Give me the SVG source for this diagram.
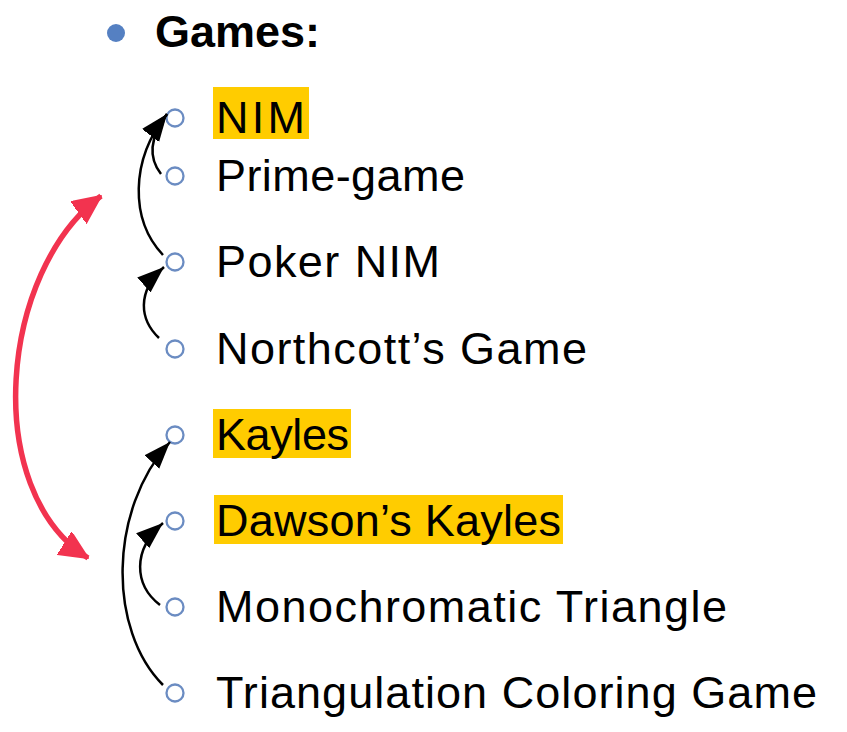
<svg xmlns="http://www.w3.org/2000/svg" width="847" height="732" viewBox="0 0 847 732">
<style>
.t{font-family:"Liberation Sans",Arial,sans-serif;font-size:45px;fill:#000}
.h{font-family:"Liberation Sans",Arial,sans-serif;font-size:44px;font-weight:bold;fill:#000}
.hl{fill:#ffcc00}
.b{fill:none;stroke:#6b8cc2;stroke-width:2.3}
.c{fill:none;stroke:#000;stroke-width:2.5}
.r{fill:none;stroke:#f2334f;stroke-width:5.5}
</style>
<defs>
<marker id="ab" markerUnits="userSpaceOnUse" markerWidth="30" markerHeight="24" refX="27" refY="10" orient="auto">
<path d="M0,0 L27,10 L0,20 Z" fill="#000"/>
</marker>
<marker id="ar" markerUnits="userSpaceOnUse" markerWidth="30" markerHeight="28" refX="28" refY="13" orient="auto-start-reverse">
<path d="M0,0 L28,13 L0,26 Z" fill="#f2334f" stroke="#f2334f" stroke-width="2" stroke-linejoin="round"/>
</marker>
</defs>
<g id="title">
<circle cx="116" cy="33" r="9" fill="#5580c2"/>
<text class="h" x="155" y="47" textLength="165" lengthAdjust="spacingAndGlyphs">Games:</text>
</g>
<g id="n-nim">
<rect class="hl" x="213" y="87" width="96" height="52"/>
<circle class="b" cx="175" cy="118" r="8.5"/>
<text class="t" x="216" y="133" textLength="89" lengthAdjust="spacing">NIM</text>
</g>
<g id="n-prime">
<circle class="b" cx="175" cy="176" r="8.5"/>
<text class="t" x="216" y="191" textLength="249" lengthAdjust="spacing">Prime-game</text>
</g>
<g id="n-poker">
<circle class="b" cx="175" cy="262" r="8.5"/>
<text class="t" x="216" y="277" textLength="224" lengthAdjust="spacing">Poker NIM</text>
</g>
<g id="n-northcott">
<circle class="b" cx="175" cy="349" r="8.5"/>
<text class="t" x="216" y="364" textLength="371" lengthAdjust="spacing">Northcott’s Game</text>
</g>
<g id="n-kayles">
<rect class="hl" x="213" y="409" width="138" height="49"/>
<circle class="b" cx="175" cy="435" r="8.5"/>
<text class="t" x="216" y="450" textLength="133" lengthAdjust="spacing">Kayles</text>
</g>
<g id="n-dawson">
<rect class="hl" x="214" y="495" width="349" height="49"/>
<circle class="b" cx="175" cy="521" r="8.5"/>
<text class="t" x="216" y="536" textLength="345" lengthAdjust="spacing">Dawson’s Kayles</text>
</g>
<g id="n-mono">
<circle class="b" cx="175" cy="607" r="8.5"/>
<text class="t" x="216" y="622" textLength="511" lengthAdjust="spacing">Monochromatic Triangle</text>
</g>
<g id="n-triang">
<circle class="b" cx="175" cy="693" r="8.5"/>
<text class="t" x="216" y="708" textLength="601" lengthAdjust="spacing">Triangulation Coloring Game</text>
</g>
<g id="connectors">
<path class="c" d="M161,174 C150,160 148,140 167,114" marker-end="url(#ab)"/>
<path class="c" d="M163,255 C130,220 130,160 167,114" marker-end="url(#ab)"/>
<path class="c" d="M159,338 C140,320 136,292 164,267" marker-end="url(#ab)"/>
<path class="c" d="M163,685 C108,630 108,510 170,442" marker-end="url(#ab)"/>
<path class="c" d="M160,605 C134,585 132,550 163,523" marker-end="url(#ab)"/>
<path class="r" d="M101,196 C0,270 -20,490 88,558" marker-start="url(#ar)" marker-end="url(#ar)"/>
</g>
</svg>
